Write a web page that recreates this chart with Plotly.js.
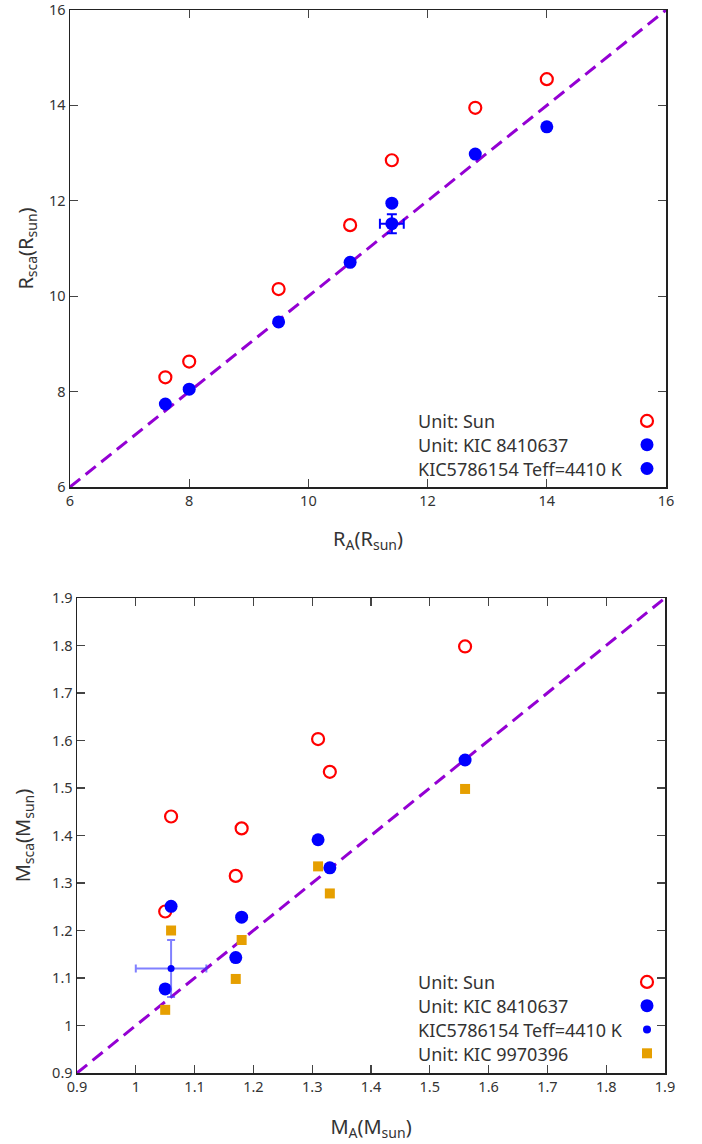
<!DOCTYPE html>
<html>
<head>
<meta charset="utf-8">
<script src="https://cdn.plot.ly/plotly-3.0.1.min.js"></script>
<style>html,body{margin:0;padding:0;background:#fff;}#chart{width:702px;height:1144px;}</style>
</head>
<body>
<div id="chart"></div>
<script>
// ---------- data: radius panel ----------
const radiusA = [7.6, 8.0, 9.5, 10.7, 11.4, 12.8, 14.0];
const radiusSun = [8.30, 8.63, 10.15, 11.49, 12.85, 13.95, 14.55];
const radiusKIC8410637 = [7.74, 8.05, 9.46, 10.71, 11.95, 12.98, 13.55];
const radiusKIC5786154X = [11.4];
const radiusKIC5786154Y = [11.52];
const radiusKIC5786154ErrX = [0.2];
const radiusKIC5786154ErrY = [0.2];
const radiusLine = [6, 16];

// ---------- data: mass panel ----------
const massA = [1.05, 1.06, 1.17, 1.18, 1.31, 1.33, 1.56];
const massSun = [1.240, 1.440, 1.315, 1.415, 1.603, 1.534, 1.798];
const massKIC8410637 = [1.077, 1.251, 1.143, 1.228, 1.391, 1.332, 1.559];
const massKIC9970396 = [1.033, 1.200, 1.098, 1.180, 1.335, 1.278, 1.498];
const massKIC5786154X = [1.06];
const massKIC5786154Y = [1.12];
const massKIC5786154ErrX = [0.06];
const massKIC5786154ErrY = [0.06];
const massLine = [0.9, 1.9];

// ---------- labels ----------
const radiusLegendLabels = ["Unit: Sun", "Unit: KIC 8410637", "KIC5786154 Teff=4410 K"];
const massLegendLabels = ["Unit: Sun", "Unit: KIC 8410637", "KIC5786154 Teff=4410 K", "Unit: KIC 9970396"];
const radiusXTitle = "R<sub>A</sub>(R<sub>sun</sub>)";
const radiusYTitle = "R<sub>sca</sub>(R<sub>sun</sub>)";
const massXTitle = "M<sub>A</sub>(M<sub>sun</sub>)";
const massYTitle = "M<sub>sca</sub>(M<sub>sun</sub>)";

// ---------- styles ----------
const W = 702, H = 1144;
const FONT = "Noto Sans, Open Sans, DejaVu Sans, sans-serif";
const VIOLET = "#9400d3", RED = "#ff0000", BLUE = "#0000ff", ORANGE = "#e69f00";
const px = v => v / W;
const py = v => 1 - v / H;

const redOpen = {symbol: "circle-open", size: 12, color: RED, line: {width: 2.2, color: RED}};
const blueDot = {symbol: "circle", size: 13, color: BLUE};
const orangeSq = {symbol: "square", size: 10, color: ORANGE};

const traces = [
  // radius panel
  {x: radiusLine, y: radiusLine, mode: "lines", line: {color: VIOLET, width: 3, dash: "13px,7px"}, xaxis: "x", yaxis: "y", showlegend: false, hoverinfo: "skip"},
  {x: radiusA, y: radiusSun, mode: "markers", marker: redOpen, name: radiusLegendLabels[0], xaxis: "x", yaxis: "y", showlegend: false},
  {x: radiusA, y: radiusKIC8410637, mode: "markers", marker: blueDot, name: radiusLegendLabels[1], xaxis: "x", yaxis: "y", showlegend: false},
  {x: radiusKIC5786154X, y: radiusKIC5786154Y, mode: "markers", marker: {symbol: "circle", size: 13, color: BLUE},
   error_x: {type: "data", array: radiusKIC5786154ErrX, color: BLUE, thickness: 2, width: 5},
   error_y: {type: "data", array: radiusKIC5786154ErrY, color: BLUE, thickness: 2, width: 5},
   name: radiusLegendLabels[2], xaxis: "x", yaxis: "y", showlegend: false},
  // mass panel
  {x: massLine, y: massLine, mode: "lines", line: {color: VIOLET, width: 3, dash: "13px,7px"}, xaxis: "x2", yaxis: "y2", showlegend: false, hoverinfo: "skip"},
  {x: massA, y: massSun, mode: "markers", marker: redOpen, name: massLegendLabels[0], xaxis: "x2", yaxis: "y2", showlegend: false},
  {x: massA, y: massKIC8410637, mode: "markers", marker: blueDot, name: massLegendLabels[1], xaxis: "x2", yaxis: "y2", showlegend: false},
  {x: massKIC5786154X, y: massKIC5786154Y, mode: "markers", marker: {symbol: "circle", size: 7, color: BLUE},
   error_x: {type: "data", array: massKIC5786154ErrX, color: "rgba(60,60,255,0.65)", thickness: 2, width: 4},
   error_y: {type: "data", array: massKIC5786154ErrY, color: "rgba(60,60,255,0.65)", thickness: 2, width: 4},
   name: massLegendLabels[2], xaxis: "x2", yaxis: "y2", showlegend: false},
  {x: massA, y: massKIC9970396, mode: "markers", marker: orangeSq, name: massLegendLabels[3], xaxis: "x2", yaxis: "y2", showlegend: false},
  // legend symbol samples (labels are drawn as annotations to the left)
  {x: [null], y: [null], mode: "markers", marker: redOpen, name: "", xaxis: "x", yaxis: "y", legend: "legend"},
  {x: [null], y: [null], mode: "markers", marker: blueDot, name: "", xaxis: "x", yaxis: "y", legend: "legend"},
  {x: [null], y: [null], mode: "markers", marker: blueDot, name: "", xaxis: "x", yaxis: "y", legend: "legend"},
  {x: [null], y: [null], mode: "markers", marker: redOpen, name: "", xaxis: "x2", yaxis: "y2", legend: "legend2"},
  {x: [null], y: [null], mode: "markers", marker: blueDot, name: "", xaxis: "x2", yaxis: "y2", legend: "legend2"},
  {x: [null], y: [null], mode: "markers", marker: {symbol: "circle", size: 8, color: BLUE}, name: "", xaxis: "x2", yaxis: "y2", legend: "legend2"},
  {x: [null], y: [null], mode: "markers", marker: orangeSq, name: "", xaxis: "x2", yaxis: "y2", legend: "legend2"}
];

const axisBase = {
  showgrid: false, zeroline: false, showline: true, linecolor: "#222", linewidth: 1.5, mirror: "ticks",
  ticks: "inside", ticklen: 8, tickwidth: 1.2, tickcolor: "#444", ticklabeloverflow: "allow",
  tickfont: {family: FONT, size: 14.5, color: "#333"}, automargin: false, fixedrange: true
};
const titleFont = {family: FONT, size: 20, color: "#333"};

const annotations = [];
const radiusRowsY = [421, 445, 469];
radiusLegendLabels.forEach((t, i) => annotations.push({
  text: t, xref: "paper", yref: "paper", x: px(416), y: py(radiusRowsY[i]), xanchor: "left", yanchor: "middle",
  showarrow: false, font: {family: FONT, size: 18, color: "#333"}
}));
const massRowsY = [982, 1006, 1030, 1054];
massLegendLabels.forEach((t, i) => annotations.push({
  text: t, xref: "paper", yref: "paper", x: px(416), y: py(massRowsY[i]), xanchor: "left", yanchor: "middle",
  showarrow: false, font: {family: FONT, size: 18, color: "#333"}
}));

const legendBase = {bgcolor: "rgba(0,0,0,0)", borderwidth: 0, font: {family: FONT, size: 16}, tracegroupgap: 0, itemwidth: 30, xanchor: "left", yanchor: "top"};

const layout = {
  width: W, height: H,
  margin: {l: 0, r: 0, t: 0, b: 0},
  paper_bgcolor: "#fff", plot_bgcolor: "#fff",
  showlegend: true,
  xaxis: Object.assign({}, axisBase, {domain: [px(70), px(666)], range: [6, 16], tickvals: [6, 8, 10, 12, 14, 16], anchor: "y",
    title: {text: radiusXTitle, font: titleFont, standoff: 23}}),
  yaxis: Object.assign({}, axisBase, {domain: [py(487), py(10)], range: [6, 16], tickvals: [6, 8, 10, 12, 14, 16], anchor: "x",
    title: {text: radiusYTitle, font: titleFont, standoff: 10}}),
  xaxis2: Object.assign({}, axisBase, {domain: [px(77), px(665)], range: [0.9, 1.9], dtick: 0.1, tick0: 0.9, anchor: "y2",
    title: {text: massXTitle, font: titleFont, standoff: 25}}),
  yaxis2: Object.assign({}, axisBase, {domain: [py(1073), py(598)], range: [0.9, 1.9], dtick: 0.1, tick0: 0.9, anchor: "x2",
    title: {text: massYTitle, font: titleFont, standoff: 16}}),
  legend: Object.assign({}, legendBase, {x: px(627), y: py(404)}),
  legend2: Object.assign({}, legendBase, {x: px(627), y: py(965)}),
  annotations: annotations
};

Plotly.newPlot("chart", traces, layout, {displayModeBar: false, staticPlot: true});
</script>
</body>
</html>
